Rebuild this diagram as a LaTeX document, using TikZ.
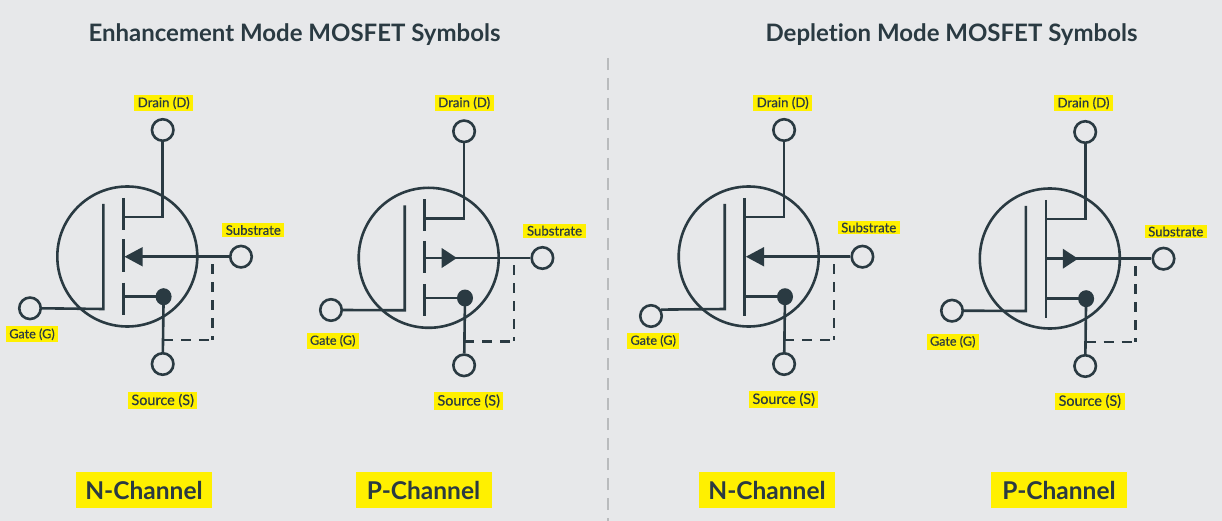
\documentclass[tikz,border=0pt]{standalone}
\usepackage{fontspec}
\setmainfont{Lato}[Ligatures=NoCommon]
\newfontfamily\pinfont{Lato}[FakeBold=0.5,Ligatures=NoCommon]
\usetikzlibrary{positioning}
\definecolor{bgcol}{HTML}{E7E8EA}
\definecolor{inkcol}{HTML}{2A3A42}
\definecolor{markcol}{HTML}{FFF000}
\definecolor{sepcol}{HTML}{B9BBBD}
\tikzset{
    wire/.style={draw=inkcol,line width=2.6pt},
    terminal/.style={circle,draw=inkcol,line width=2.6pt,minimum size=21.5pt,inner sep=0pt},
    pinlabel/.style={fill=markcol,text=inkcol,font=\fontsize{13.2}{15}\pinfont,inner xsep=3.5pt,inner ysep=2pt},
    gatelabel/.style={pinlabel,font=\fontsize{12.6}{15}\pinfont},
    sourcelabel/.style={pinlabel,font=\fontsize{14.4}{16}\pinfont},
    channellabel/.style={fill=markcol,text=inkcol,font=\fontsize{24.5}{28}\selectfont\bfseries,minimum height=36pt,minimum width=136pt,inner sep=0pt},
    grouptitle/.style={text=inkcol,font=\fontsize{24}{28}\selectfont\bfseries},
}
% one symbol: name, shift x, shift y, body wires, gate anchor
\newcommand{\mosfetsym}[5]{
    \begin{scope}[shift={(#2,#3)}]
        \node[circle,wire,minimum size=140pt,inner sep=0pt] (body#1) at (127.3,256.5) {};
        \node[terminal] (d#1) at (162.7,130) {};
        \node[terminal] (s#1) at (162.7,364) {};
        \node[terminal] (b#1) at (241,256.7) {};
        \coordinate (jd#1) at (162.7,217);
        \coordinate (js#1) at (163.6,296.7);
        \coordinate (jg#1) at (103.3,309);
        \coordinate (jb#1) at (212.7,340);
        \coordinate (je#1) at (212.7,264);
        \coordinate (ju#1) at (163,340);
        \draw[wire] (d#1) -- (jd#1) -- (123.3,217);
        \draw[wire] (103.3,204) -- (jg#1) -- (g#1.#5);
        \draw[wire] (js#1) -- (s#1);
        \draw[wire] (123.3,296.7) -- (js#1);
        \fill[inkcol] (js#1) ellipse (8pt and 8.5pt);
        \draw[wire,dash pattern=on 10pt off 8pt] (ju#1) -- (jb#1);
        \draw[wire,dash pattern=on 10pt off 8pt] (je#1) -- (jb#1);
        #4
    \end{scope}
}
\newcommand{\chsolid}{\draw[wire] (123.3,198) -- (123.3,316);}
\newcommand{\chbroken}{
    \draw[wire] (123.3,198) -- (123.3,230);
    \draw[wire] (123.3,239.5) -- (123.3,272);
    \draw[wire] (123.3,282.5) -- (123.3,315);
}
\newcommand{\arrowin}[1]{
    \draw[wire] (b#1) -- (140,256.7);
    \fill[inkcol] (124.5,256.7) -- (142.7,247) -- (142.7,266.5) -- cycle;
}
\newcommand{\arrowout}[1]{
    \draw[wire] (123.3,256.7) -- (b#1);
    \fill[inkcol] (155.5,256.7) -- (140.3,246.7) -- (140.3,266.7) -- cycle;
}
\begin{document}
\begin{tikzpicture}[x=1pt,y=-1pt]
    \useasboundingbox[fill=bgcol] (0,0) rectangle (1222,521);
    \draw[sepcol,line width=1.3pt,dash pattern=on 12pt off 8pt] (608,58) -- (608,521);

    \node[grouptitle] (titleE) at (294.5,35) {Enhancement Mode MOSFET Symbols};
    \node[grouptitle] (titleD) at (951.5,35) {Depletion Mode MOSFET Symbols};

    % gate terminals first, the macro draws to them
    \node[terminal] (gA) at (30,308.3) {};
    \node[terminal] (gB) at (331,310) {};
    \node[terminal] (gC) at (651,316) {};
    \node[terminal] (gD) at (952,310.7) {};

    \mosfetsym{A}{0}{0}{\chbroken\arrowin{A}}{0}
    \mosfetsym{B}{301.4}{1.3}{\chbroken\arrowout{B}}{0}
    \mosfetsym{C}{621.4}{0}{\chsolid\arrowin{C}}{32}
    \mosfetsym{D}{922.5}{2}{\chsolid\arrowout{D}}{0}

    \node[pinlabel] (ldA) at (163.7,103) {Drain (D)};
    \node[pinlabel] (lbA) at (253.3,230) {Substrate};
    \node[gatelabel] (lgA) at (32,334.3) {Gate (G)};
    \node[sourcelabel] (lsA) at (162.7,400.5) {Source (S)};

    \node[pinlabel] (ldB) at (464.2,103) {Drain (D)};
    \node[pinlabel] (lbB) at (554.5,230.7) {Substrate};
    \node[gatelabel] (lgB) at (332.7,340.8) {Gate (G)};
    \node[sourcelabel] (lsB) at (468.7,401) {Source (S)};

    \node[pinlabel] (ldC) at (782.7,103) {Drain (D)};
    \node[pinlabel] (lbC) at (868.7,227.5) {Substrate};
    \node[gatelabel] (lgC) at (653.2,340.8) {Gate (G)};
    \node[sourcelabel] (lsC) at (783.7,399.4) {Source (S)};

    \node[pinlabel] (ldD) at (1083.5,103.2) {Drain (D)};
    \node[pinlabel] (lbD) at (1175.7,231.5) {Substrate};
    \node[gatelabel] (lgD) at (952.7,341.7) {Gate (G)};
    \node[sourcelabel] (lsD) at (1089.8,401.3) {Source (S)};

    \node[channellabel] (chA) at (144,490) {N-Channel};
    \node[channellabel] (chB) at (423.5,490) {P-Channel};
    \node[channellabel] (chC) at (767,490) {N-Channel};
    \node[channellabel] (chD) at (1059,490) {P-Channel};
\end{tikzpicture}
\end{document}
